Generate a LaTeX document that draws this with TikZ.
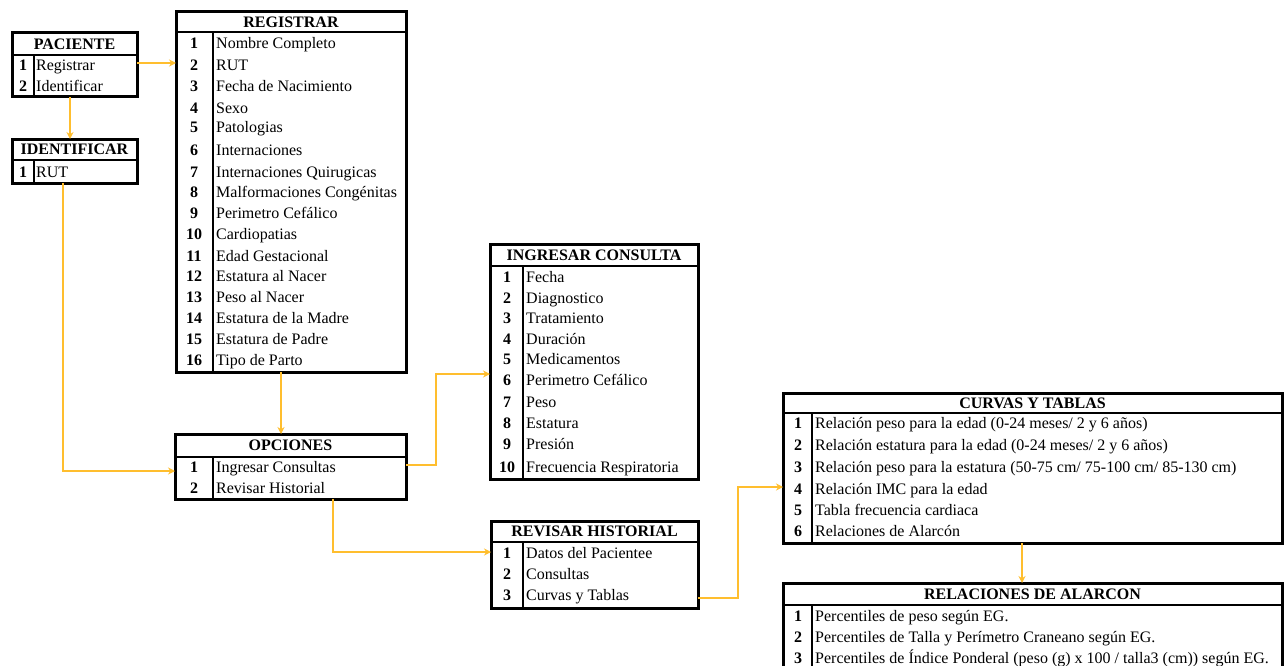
\documentclass[tikz,border=0pt]{standalone}
\usepackage{fontspec}
\setmainfont{Liberation Serif}
\usetikzlibrary{arrows.meta}
\definecolor{conn}{HTML}{FFBE2E}
\newcommand\tablebox[8]{% name, L, T, R, TB, B, D, title
  \node[boxst, minimum width={(#4-#2)*1pt}, minimum height={(#6-#3)*1pt}, anchor=north west] (#1) at (#2,#3) {};
  \draw[innerline] (#2,#5) -- (#4,#5);
  \draw[divline] (#7,#5) -- (#7,#6);
  \node[titlest] (#1t) at ({(#2+#4)/2},{(#3+#5)/2}) {#8};
}
\newcommand\rowitem[6]{% name, numx, textx, y, num, text
  \node[numst] (#1n) at (#2,#4) {#5};
  \node[txtst] (#1) at (#3,#4) {#6};
}
\tikzset{
  boxst/.style={draw=black, line width=3pt, inner sep=0pt, outer sep=0pt, fill=white},
  innerline/.style={line width=2.2pt},
  divline/.style={line width=2.2pt},
  titlest/.style={font=\fontsize{16}{18}\selectfont\bfseries, inner sep=0pt, text height=10.6pt, text depth=0pt},
  numst/.style={font=\fontsize{16}{18}\selectfont\bfseries, inner sep=0pt, text height=10.6pt, text depth=0pt},
  txtst/.style={font=\fontsize{16}{18}\selectfont, inner sep=0pt, anchor=west, text height=10.6pt, text depth=0pt},
  connst/.style={draw=conn, line width=1.6pt, -{Stealth[length=7pt,width=7pt]}},
}
\begin{document}
\begin{tikzpicture}[x=1pt,y=-1pt]
\useasboundingbox (0,0) rectangle (1284,666);
\begin{scope}
\clip (0,0) rectangle (1284,666);
% PACIENTE
\tablebox{pac}{12}{33}{137}{55}{97}{34}{PACIENTE}
\rowitem{pac1}{23}{36}{65}{1}{Registrar}
\rowitem{pac2}{23}{36}{86}{2}{Identificar}
% IDENTIFICAR
\tablebox{ide}{12}{139}{137}{160}{183}{34}{IDENTIFICAR}
\rowitem{ide1}{23}{36}{172}{1}{RUT}
% REGISTRAR
\tablebox{reg}{176}{12}{406}{32}{372}{213}{REGISTRAR}
\rowitem{reg1}{194}{216}{43}{1}{Nombre Completo}
\rowitem{reg2}{194}{216}{65}{2}{RUT}
\rowitem{reg3}{194}{216}{86}{3}{Fecha de Nacimiento}
\rowitem{reg4}{194}{216}{108}{4}{Sexo}
\rowitem{reg5}{194}{216}{127}{5}{Patologias}
\rowitem{reg6}{194}{216}{150}{6}{Internaciones}
\rowitem{reg7}{194}{216}{172}{7}{Internaciones Quirugicas}
\rowitem{reg8}{194}{216}{192}{8}{Malformaciones Congénitas}
\rowitem{reg9}{194}{216}{213}{9}{Perimetro Cefálico}
\rowitem{reg10}{194}{216}{234}{10}{Cardiopatias}
\rowitem{reg11}{194}{216}{256}{11}{Edad Gestacional}
\rowitem{reg12}{194}{216}{276}{12}{Estatura al Nacer}
\rowitem{reg13}{194}{216}{297}{13}{Peso al Nacer}
\rowitem{reg14}{194}{216}{318}{14}{Estatura de la Madre}
\rowitem{reg15}{194}{216}{339}{15}{Estatura de Padre}
\rowitem{reg16}{194}{216}{360}{16}{Tipo de Parto}
% OPCIONES
\tablebox{opc}{175}{434}{406}{457}{499}{213}{OPCIONES}
\rowitem{opc1}{194}{216}{467}{1}{Ingresar Consultas}
\rowitem{opc2}{194}{216}{488}{2}{Revisar Historial}
% INGRESAR CONSULTA
\tablebox{ing}{490}{244}{698}{266}{479}{523}{INGRESAR CONSULTA}
\rowitem{ing1}{507}{526}{277}{1}{Fecha}
\rowitem{ing2}{507}{526}{298}{2}{Diagnostico}
\rowitem{ing3}{507}{526}{318}{3}{Tratamiento}
\rowitem{ing4}{507}{526}{339}{4}{Duración}
\rowitem{ing5}{507}{526}{359}{5}{Medicamentos}
\rowitem{ing6}{507}{526}{380}{6}{Perimetro Cefálico}
\rowitem{ing7}{507}{526}{402}{7}{Peso}
\rowitem{ing8}{507}{526}{423}{8}{Estatura}
\rowitem{ing9}{507}{526}{444}{9}{Presión}
\rowitem{ing10}{507}{526}{467}{10}{Frecuencia Respiratoria}
% REVISAR HISTORIAL
\tablebox{rev}{491}{521}{698}{542}{608}{523}{REVISAR HISTORIAL}
\rowitem{rev1}{507}{526}{553}{1}{Datos del Pacientee}
\rowitem{rev2}{507}{526}{574}{2}{Consultas}
\rowitem{rev3}{507}{526}{595}{3}{Curvas y Tablas}
% CURVAS Y TABLAS
\tablebox{cur}{783}{393}{1282}{413}{543}{812}{CURVAS Y TABLAS}
\rowitem{cur1}{798}{815}{423}{1}{Relación peso para la edad (0-24 meses/ 2 y 6 años)}
\rowitem{cur2}{798}{815}{445}{2}{Relación estatura para la edad (0-24 meses/ 2 y 6 años)}
\rowitem{cur3}{798}{815}{467}{3}{Relación peso para la estatura (50-75 cm/ 75-100 cm/ 85-130 cm)}
\rowitem{cur4}{798}{815}{489}{4}{Relación IMC para la edad}
\rowitem{cur5}{798}{815}{510}{5}{Tabla frecuencia cardiaca}
\rowitem{cur6}{798}{815}{531}{6}{Relaciones de Alarcón}
% RELACIONES DE ALARCON
\tablebox{ala}{783}{583}{1282}{605}{690}{812}{RELACIONES DE ALARCON}
\rowitem{ala1}{798}{815}{616}{1}{Percentiles de peso según EG.}
\rowitem{ala2}{798}{815}{637}{2}{Percentiles de Talla y Perímetro Craneano según EG.}
\rowitem{ala3}{798}{815}{658}{3}{Percentiles de Índice Ponderal (peso (g) x 100 / talla3 (cm)) según EG.}
\end{scope}
% connectors
\coordinate (c1) at (70,0);
\coordinate (c2) at (63,0);
\coordinate (c3) at (281,0);
\coordinate (c4) at (333,0);
\coordinate (c5) at (1022,0);
\coordinate (k1) at (436,374);
\coordinate (k2) at (738,487);
\draw[connst] (pac.east |- 0,63) -- (reg.west |- 0,63);
\draw[connst] (pac.south -| c1) -- (ide.north -| c1);
\draw[connst] (ide.south -| c2) |- (opc.west |- 0,471);
\draw[connst] (reg.south -| c3) -- (opc.north -| c3);
\draw[connst] (opc.east |- 0,465) -| (k1) -- (ing.west |- k1);
\draw[connst] (opc.south -| c4) |- (rev.west |- 0,552);
\draw[connst] (rev.east |- 0,598) -| (k2) -- (cur.west |- k2);
\draw[connst] (cur.south -| c5) -- (ala.north -| c5);
\end{tikzpicture}
\end{document}
